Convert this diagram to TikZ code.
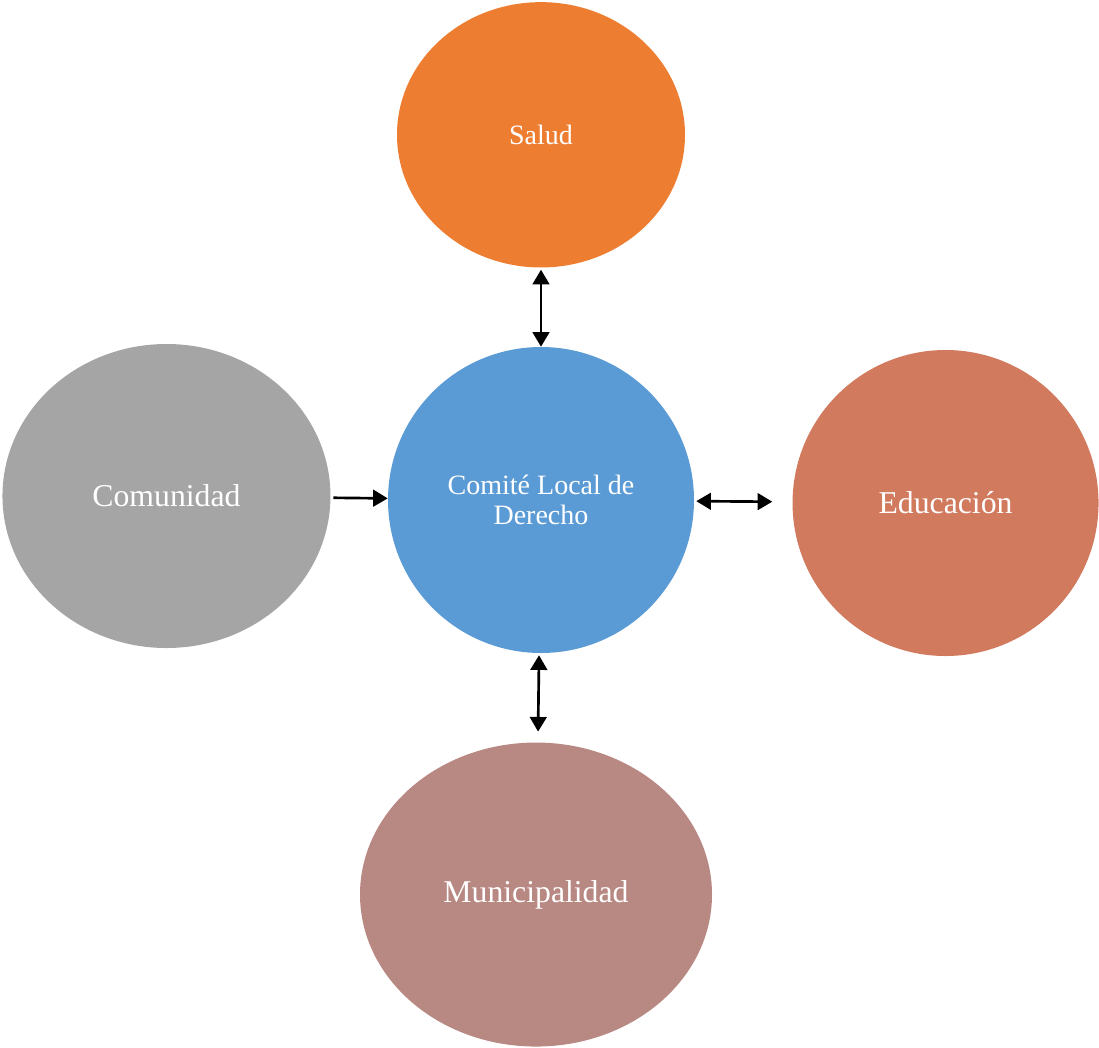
\documentclass[tikz,border=0pt]{standalone}
\usepackage{fontspec}
\setmainfont{Liberation Serif}
\usetikzlibrary{shapes.geometric, arrows.meta, positioning}
\definecolor{salud}{HTML}{ED7D31}
\definecolor{comite}{HTML}{5B9BD5}
\definecolor{comunidad}{HTML}{A5A5A5}
\definecolor{educacion}{HTML}{D17A5E}
\definecolor{municipio}{HTML}{B88882}
\begin{document}
\begin{tikzpicture}[x=0.75pt, y=-0.75pt,
			entity/.style = {
				ellipse, draw=none, inner sep=0pt, text=white, align=center,
				font=\fontsize{23.8}{26}\selectfont
			},
			link/.style = {
				line width=2pt, {Triangle[length=11pt, width=12.5pt]}-{Triangle[length=11pt, width=12.5pt]}
			}]
			\useasboundingbox (0,0) rectangle (1099,1047);
			\node (cld) [entity, fill=comite, minimum width=229.5pt, minimum height=229.5pt,
			font=\fontsize{21}{22.5}\selectfont] at (541,500) {Comité Local de\\Derecho};
			\node (sal) [entity, fill=salud, minimum width=216pt, minimum height=199pt,
			font=\fontsize{21}{22.5}\selectfont, above=59.25pt of cld] {Salud};
			\node (com) [entity, fill=comunidad, minimum width=246pt, minimum height=228pt,
			left=42.75pt of cld, yshift=3pt] {Comunidad};
			\node (edu) [entity, fill=educacion, minimum width=229.5pt, minimum height=229.5pt,
			right=73.5pt of cld, yshift=-2.25pt] {Educación};
			\node (mun) [entity, fill=municipio, minimum width=264pt, minimum height=228pt,
			below=66.75pt of cld, xshift=-3.75pt] {Municipalidad};
			\path [link]
			(sal) edge [shorten <=1.5pt] (cld)
			(cld) edge [shorten <=1.5pt, shorten >=15pt] (edu)
			(cld) edge [shorten <=1.5pt, shorten >=8pt] (mun);
			\path [line width=2pt, -{Triangle[length=11pt, width=12.5pt]}]
			(com) edge [shorten <=2pt] (cld);
		\end{tikzpicture}
\end{document}
